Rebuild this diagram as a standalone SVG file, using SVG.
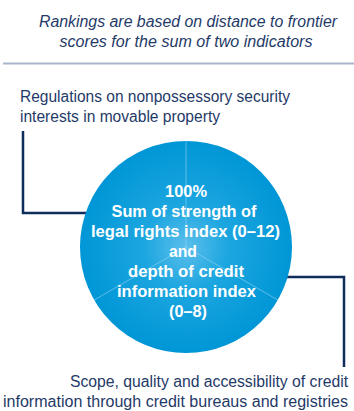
<svg xmlns="http://www.w3.org/2000/svg" width="354" height="411" viewBox="0 0 354 411">
  <style>
    .title { font-family: "Liberation Sans", Arial, sans-serif; font-style: italic; font-size: 16px; fill: #1f3a68; }
    .label { font-family: "Liberation Sans", Arial, sans-serif; font-size: 16px; fill: #1f3a68; }
    .inner { font-family: "Liberation Sans", Arial, sans-serif; font-weight: bold; font-size: 17px; fill: #ffffff; text-anchor: middle; }
    .conn { fill: none; stroke: #0f2d5c; stroke-width: 2.5; stroke-linejoin: miter; }
    .divider { stroke: #8fd3f3; stroke-width: 0.8; opacity: 0.8; }
  </style>
  <defs>
    <radialGradient id="discFill" cx="0.5" cy="0.5" r="0.5">
      <stop offset="0" stop-color="#5cbfeb"/>
      <stop offset="0.4" stop-color="#1ca6e0"/>
      <stop offset="1" stop-color="#0096d6"/>
    </radialGradient>
  </defs>
  <rect width="354" height="411" fill="#ffffff"/>

  <!-- heading -->
  <g id="heading">
    <text class="title" x="188" y="27" text-anchor="middle" textLength="298" lengthAdjust="spacingAndGlyphs">Rankings are based on distance to frontier</text>
    <text class="title" x="186" y="47" text-anchor="middle" textLength="253" lengthAdjust="spacingAndGlyphs">scores for the sum of two indicators</text>
    <line x1="3" y1="63.5" x2="354" y2="63.5" stroke="#a9b5cd" stroke-width="2"/>
  </g>

  <!-- connectors -->
  <g id="connectors">
    <polyline class="conn" points="23,131 23,213 88,213"/>
    <polyline class="conn" points="286,277 344,277 344,367"/>
  </g>

  <!-- indicator disc -->
  <g id="disc">
    <circle cx="186" cy="247" r="106" fill="url(#discFill)"/>
    <line class="divider" x1="186" y1="247" x2="186" y2="141"/>
    <line class="divider" x1="186" y1="247" x2="277.8" y2="300"/>
    <line class="divider" x1="186" y1="247" x2="94.2" y2="300"/>
    <text class="inner" x="186" y="197" textLength="42" lengthAdjust="spacingAndGlyphs">100%</text>
    <text class="inner" x="184" y="217" textLength="145" lengthAdjust="spacingAndGlyphs">Sum of strength of</text>
    <text class="inner" x="185.5" y="237" textLength="189" lengthAdjust="spacingAndGlyphs">legal rights index (0–12)</text>
    <text class="inner" x="183" y="257" textLength="28" lengthAdjust="spacingAndGlyphs">and</text>
    <text class="inner" x="186" y="277" textLength="116" lengthAdjust="spacingAndGlyphs">depth of credit</text>
    <text class="inner" x="186.5" y="297" textLength="139" lengthAdjust="spacingAndGlyphs">information index</text>
    <text class="inner" x="188" y="317" textLength="38" lengthAdjust="spacingAndGlyphs">(0–8)</text>
  </g>

  <!-- legal rights label -->
  <g id="legal-rights">
    <text class="label" x="20" y="102" textLength="270" lengthAdjust="spacingAndGlyphs">Regulations on nonpossessory security</text>
    <text class="label" x="20" y="122" textLength="200" lengthAdjust="spacingAndGlyphs">interests in movable property</text>
  </g>

  <!-- credit information label -->
  <g id="credit-information">
    <text class="label" x="348" y="387" text-anchor="end" textLength="278" lengthAdjust="spacingAndGlyphs">Scope, quality and accessibility of credit</text>
    <text class="label" x="348" y="407" text-anchor="end" textLength="345" lengthAdjust="spacingAndGlyphs">information through credit bureaus and registries</text>
  </g>
</svg>
